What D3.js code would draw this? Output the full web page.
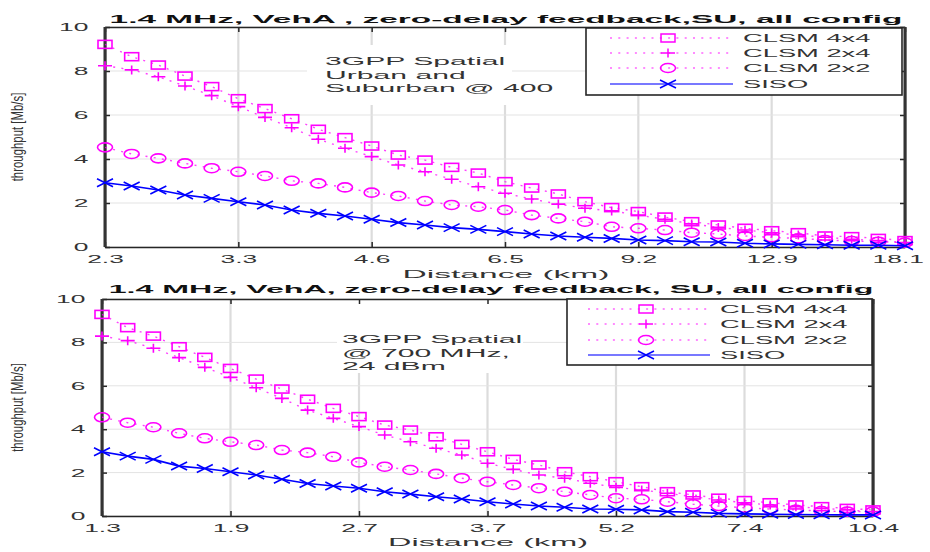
<!DOCTYPE html>
<html>
<head>
<meta charset="utf-8">
<script src="https://cdnjs.cloudflare.com/ajax/libs/d3/7.8.5/d3.min.js"></script>
<style>
    body { margin: 0; background: #fff; }
    svg { display: block; font-family: "Liberation Sans", Arial, sans-serif; }
</style>
</head>
<body>
<div id="chart"></div>
<script>
var seriesNames = ['CLSM 4x4', 'CLSM 2x4', 'CLSM 2x2', 'SISO']
var yTicks = [0, 2, 4, 6, 8, 10]
var xTickIdx = [0, 5, 10, 15, 20, 25, 30]

// top panel: 3GPP spatial urban/suburban @ 400
var topTicks = ['2.3', '3.3', '4.6', '6.5', '9.2', '12.9', '18.1']
var top4x4 = [9.21, 8.65, 8.27, 7.77, 7.29, 6.74, 6.29, 5.83, 5.35, 4.97, 4.59, 4.18, 3.95, 3.62, 3.36, 2.97, 2.68, 2.41, 2.06, 1.79, 1.61, 1.36, 1.15, 1.0, 0.85, 0.74, 0.65, 0.5, 0.47, 0.39, 0.29]
var top2x4 = [8.24, 8.05, 7.74, 7.32, 6.88, 6.38, 5.89, 5.42, 4.9, 4.49, 4.11, 3.73, 3.42, 3.08, 2.74, 2.44, 2.18, 1.95, 1.76, 1.64, 1.45, 1.26, 1.05, 0.89, 0.77, 0.65, 0.55, 0.44, 0.35, 0.29, 0.2]
var top2x2 = [4.53, 4.23, 4.03, 3.8, 3.58, 3.42, 3.23, 3.01, 2.89, 2.71, 2.47, 2.32, 2.09, 1.91, 1.83, 1.68, 1.45, 1.3, 1.15, 0.92, 0.85, 0.77, 0.65, 0.59, 0.5, 0.44, 0.39, 0.32, 0.27, 0.24, 0.2]
var topSiso = [2.92, 2.77, 2.59, 2.36, 2.21, 2.06, 1.91, 1.68, 1.53, 1.41, 1.26, 1.11, 1.0, 0.88, 0.8, 0.7, 0.59, 0.5, 0.44, 0.39, 0.32, 0.29, 0.24, 0.23, 0.17, 0.14, 0.12, 0.1, 0.08, 0.08, 0.06]

// bottom panel: 3GPP spatial @ 700 MHz, 24 dBm
var botTicks = ['1.3', '1.9', '2.7', '3.7', '5.2', '7.4', '10.4']
var bot4x4 = [9.29, 8.68, 8.29, 7.8, 7.31, 6.8, 6.31, 5.85, 5.38, 4.96, 4.58, 4.19, 3.96, 3.65, 3.3, 2.96, 2.61, 2.35, 2.04, 1.81, 1.58, 1.35, 1.12, 0.97, 0.82, 0.71, 0.61, 0.51, 0.43, 0.35, 0.28]
var bot2x4 = [8.29, 8.08, 7.73, 7.3, 6.85, 6.39, 5.91, 5.42, 4.88, 4.5, 4.12, 3.73, 3.42, 3.12, 2.81, 2.43, 2.15, 1.89, 1.74, 1.51, 1.32, 1.2, 1.05, 0.89, 0.74, 0.61, 0.51, 0.43, 0.35, 0.28, 0.2]
var bot2x2 = [4.55, 4.3, 4.09, 3.81, 3.58, 3.42, 3.27, 3.04, 2.92, 2.73, 2.47, 2.27, 2.12, 1.94, 1.74, 1.58, 1.43, 1.28, 1.12, 0.97, 0.82, 0.77, 0.66, 0.54, 0.46, 0.38, 0.32, 0.28, 0.23, 0.2, 0.2]
var botSiso = [2.96, 2.76, 2.61, 2.3, 2.19, 2.04, 1.89, 1.69, 1.5, 1.38, 1.28, 1.12, 1.01, 0.89, 0.78, 0.66, 0.55, 0.46, 0.4, 0.32, 0.31, 0.28, 0.2, 0.17, 0.12, 0.1, 0.08, 0.07, 0.06, 0.05, 0.05]

var styles = [
    { marker: 'square', color: '#ff00ff', dash: '2,6.3' },
    { marker: 'plus', color: '#ff00ff', dash: '2,6.3' },
    { marker: 'circle', color: '#ff00ff', dash: '2,6.3' },
    { marker: 'x', color: '#0000ff', dash: null }
]

var svg = d3.select('#chart').append('svg').attr('width', 930).attr('height', 552)

// the picture is stretched sideways, so text gets a horizontal scale
function label(g, str, x, y, o) {
    var t = g.append('text').text(str)
        .attr('font-size', o.size || 11)
        .attr('font-weight', o.bold ? 'bold' : 'normal')
        .attr('fill', o.fill || '#262626')
        .attr('text-anchor', o.anchor || 'start')
    var k = o.kx || 2.5
    if (o.width) k = o.width / t.node().getComputedTextLength()
    t.attr('transform', 'translate(' + x + ',' + y + ')' + (o.rotate ? ' rotate(' + o.rotate + ')' : '') + ' scale(' + k + ',' + (o.ky || 1) + ')')
    return t
}

function marker(sel, type) {
    if (type == 'square') sel.append('rect').attr('x', -7).attr('y', -4).attr('width', 14).attr('height', 8)
    else if (type == 'circle') sel.append('ellipse').attr('rx', 7.5).attr('ry', 4.5)
    else if (type == 'plus') sel.append('path').attr('d', 'M-7,0H7M0,-4.5V4.5')
    else sel.append('path').attr('d', 'M-8,-4L8,4M-8,4L8,-4')
}

function panel(p) {
    var x = d3.scaleLinear().domain([0, 30]).range([p.left, p.right])
    var y = d3.scaleLinear().domain([0, 10]).range([p.bottom, p.top])
    var g = svg.append('g')

    g.selectAll('.vg').data(xTickIdx).enter().append('line')
        .attr('x1', function(d) { return x(d) }).attr('x2', function(d) { return x(d) })
        .attr('y1', p.top).attr('y2', p.bottom)
        .attr('stroke', '#dcdcdc').attr('stroke-width', 2.2)
    g.selectAll('.hg').data(yTicks).enter().append('line')
        .attr('x1', p.left).attr('x2', p.right)
        .attr('y1', function(d) { return y(d) }).attr('y2', function(d) { return y(d) })
        .attr('stroke', '#e3e3e3').attr('stroke-width', 1)

    // text box behind the note
    g.append('rect').attr('x', p.note.x0).attr('y', p.note.y0)
        .attr('width', p.note.x1 - p.note.x0).attr('height', p.note.y1 - p.note.y0)
        .attr('fill', '#fff')
    p.note.lines.forEach(function(s, i) {
        label(g, s, p.note.tx, p.note.ty + i * p.note.dy, { size: 11.5, kx: 2.62, fill: '#333' })
    })

    var axes = g.append('g').attr('font-family', null).attr('font-size', null)
    axes.append('g').attr('transform', 'translate(0,' + p.bottom + ')')
        .call(d3.axisBottom(x).tickValues(xTickIdx).tickFormat(function(d, i) { return p.ticks[i] })
            .tickSizeInner(-5).tickSizeOuter(0).tickPadding(8))
    axes.append('g').attr('transform', 'translate(0,' + p.top + ')')
        .call(d3.axisTop(x).tickValues(xTickIdx).tickFormat('').tickSizeInner(-5).tickSizeOuter(0))
    axes.append('g').attr('transform', 'translate(' + p.left + ',0)')
        .call(d3.axisLeft(y).tickValues(yTicks).tickSizeInner(-5).tickSizeOuter(0).tickPadding(6.9))
    axes.append('g').attr('transform', 'translate(' + p.right + ',0)')
        .call(d3.axisRight(y).tickValues(yTicks).tickFormat('').tickSizeInner(-5).tickSizeOuter(0))
    axes.selectAll('.domain').attr('stroke', '#262626').attr('stroke-width', 1.6)
    axes.selectAll('.tick line').attr('stroke', '#262626').attr('stroke-width', 1.5)
    axes.selectAll('.tick text').attr('font-size', 11).attr('fill', '#333')
        .attr('font-family', '"Liberation Sans", Arial, sans-serif')
        .attr('transform', 'scale(2.4,1)')
        .each(function() {
            // keep the last label inside the window, as in the picture
            var b = this.getBoundingClientRect()
            if (b.right > 924) d3.select(this).attr('x', -(b.right - 924) / 2.4)
        })
    // vertical edges look heavier in the picture
    axes.append('line').attr('x1', p.left).attr('x2', p.left).attr('y1', p.top).attr('y2', p.bottom)
        .attr('stroke', '#333').attr('stroke-width', 3)
    axes.append('line').attr('x1', p.right).attr('x2', p.right).attr('y1', p.top).attr('y2', p.bottom)
        .attr('stroke', '#333').attr('stroke-width', 3)

    var line = d3.line().x(function(d, i) { return x(i) }).y(function(d) { return y(d) })
    p.series.forEach(function(vals, k) {
        var st = styles[k]
        g.append('path').datum(vals).attr('d', line)
            .attr('fill', 'none').attr('stroke', st.color)
            .attr('stroke-width', st.dash ? 1.4 : 1.6)
            .attr('stroke-dasharray', st.dash)
            .attr('opacity', st.dash ? 0.75 : 1)
        g.append('g').selectAll('g').data(vals).enter().append('g')
            .attr('transform', function(d, i) { return 'translate(' + x(i) + ',' + y(d) + ')' })
            .attr('fill', 'none').attr('stroke', st.color).attr('stroke-width', 1.6)
            .each(function() { marker(d3.select(this), st.marker) })
    })

    var L = p.legend
    g.append('rect').attr('x', L.x0).attr('y', L.y0).attr('width', L.x1 - L.x0).attr('height', L.y1 - L.y0)
        .attr('fill', '#fff').attr('stroke', '#262626').attr('stroke-width', 1.6)
    seriesNames.forEach(function(name, k) {
        var st = styles[k], ry = L.rows[k]
        g.append('line').attr('x1', L.lx0).attr('x2', L.lx1).attr('y1', ry).attr('y2', ry)
            .attr('stroke', st.color).attr('stroke-width', st.dash ? 1.4 : 1.6)
            .attr('stroke-dasharray', st.dash).attr('opacity', st.dash ? 0.6 : 0.7)
        var m = g.append('g').attr('transform', 'translate(' + L.mx + ',' + ry + ')')
            .attr('fill', 'none').attr('stroke', st.color).attr('stroke-width', 1.5)
        marker(m, st.marker)
        label(g, name, L.tx, ry + 4, { size: 10.5, kx: 2.6, fill: '#333' })
    })

    label(g, p.title, p.titleX, p.titleY, { size: 11.5, bold: true, anchor: 'middle', width: p.titleW, fill: '#111' })
    label(g, 'Distance (km)', p.xlabX, p.xlabY, { size: 11, anchor: 'middle', width: p.xlabW, fill: '#333' })
    label(g, 'throughput [Mb/s]', 23, (p.top + p.bottom) / 2, { size: 12, anchor: 'middle', rotate: -90, kx: 0.95, ky: 1.3, fill: '#333' })
}

panel({
    left: 105, right: 905, top: 27, bottom: 247,
    ticks: topTicks,
    series: [top4x4, top2x4, top2x2, topSiso],
    title: '1.4 MHz, VehA , zero-delay feedback,SU, all config', titleX: 506, titleY: 23, titleW: 793,
    xlabX: 506, xlabY: 278, xlabW: 207,
    note: { x0: 307, x1: 512, y0: 45, y1: 105, tx: 325, ty: 65, dy: 13.6,
        lines: ['3GPP Spatial', 'Urban and', 'Suburban @ 400'] },
    legend: { x0: 586, x1: 902, y0: 28, y1: 95, lx0: 610, lx1: 733, mx: 668, tx: 743, rows: [38, 53, 68, 84] }
})

panel({
    left: 102, right: 873, top: 299, bottom: 516,
    ticks: botTicks,
    series: [bot4x4, bot2x4, bot2x2, botSiso],
    title: '1.4 MHz, VehA, zero-delay feedback, SU, all config', titleX: 491, titleY: 293, titleW: 765,
    xlabX: 488, xlabY: 546, xlabW: 200,
    note: { x0: 337, x1: 523, y0: 300, y1: 373, tx: 342, ty: 343, dy: 13.5,
        lines: ['3GPP Spatial', '@ 700 MHz,', '24 dBm'] },
    legend: { x0: 567, x1: 872, y0: 299, y1: 365, lx0: 588, lx1: 710, mx: 646, tx: 720, rows: [309, 324, 340, 355] }
})
</script>
</body>
</html>
